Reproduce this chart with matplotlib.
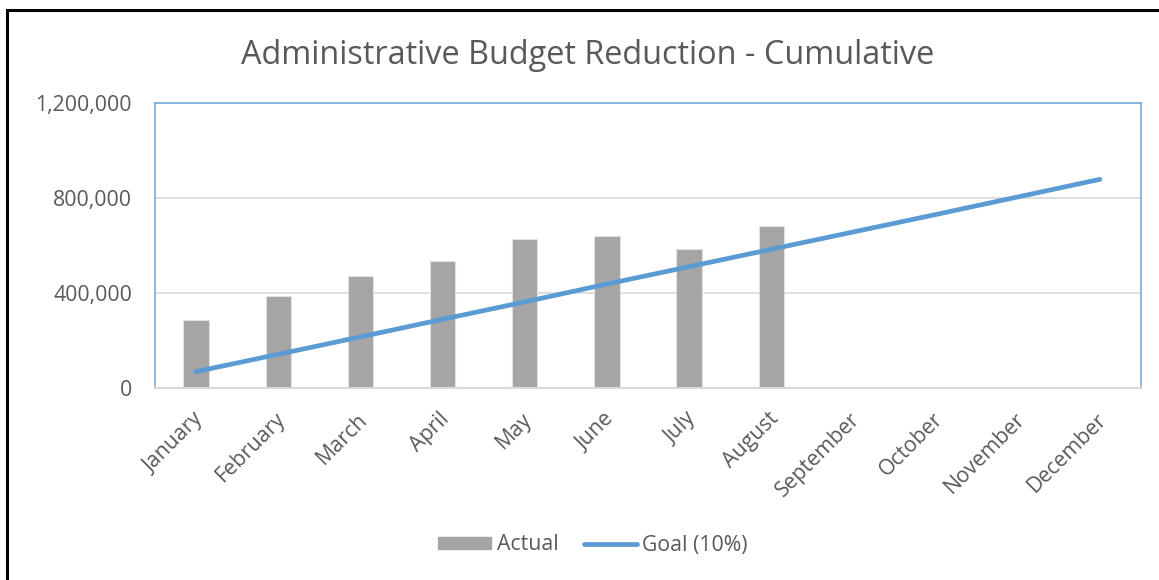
import matplotlib
matplotlib.use("Agg")
import matplotlib.pyplot as plt
import matplotlib.transforms as mtransforms
from matplotlib.lines import Line2D
from matplotlib.ticker import FuncFormatter

months = ["January", "February", "March", "April", "May", "June",
          "July", "August", "September", "October", "November", "December"]
actual = [287000, 388000, 473000, 536000, 627000, 641000, 585000, 681000]
goal = [70000, 143000, 216000, 290000, 363000, 438000,
        511000, 584000, 657000, 730000, 804000, 878000]
yticks = [0, 400000, 800000, 1200000]

BAR_CLR = "#A5A5A5"
LINE_CLR = "#5B9BD5"
TEXT_CLR = "#595959"
GRID_CLR = "#D9D9D9"

plt.rcParams["font.family"] = ["Open Sans", "DejaVu Sans"]

fig = plt.figure(figsize=(11.59, 5.80), dpi=100)
ax = fig.add_axes([155 / 1159, 1 - 388.3 / 580, 986 / 1159, 285.6 / 580])

x = list(range(len(months)))
ax.bar(x[:len(actual)], actual, width=0.31, color=BAR_CLR,
       edgecolor="#E0E0E0", linewidth=0.8, zorder=2)
ax.plot(x, goal, color=LINE_CLR, linewidth=3.4, solid_capstyle="round", zorder=3)

ax.set_xlim(-0.5, len(months) - 0.5)
ax.set_ylim(0, 1200000)
ax.set_yticks(yticks)
ax.yaxis.set_major_formatter(FuncFormatter(lambda v, p: f"{int(v):,}"))
ax.yaxis.grid(True, color=GRID_CLR, linewidth=1.2, zorder=0)
ax.set_xticks(x)
ax.set_xticklabels(months, rotation=45, ha="right", va="center",
                   rotation_mode="anchor")
ax.tick_params(axis="both", length=0, colors=TEXT_CLR, labelsize=15.3)
ax.tick_params(axis="x", pad=20)
ax.tick_params(axis="y", pad=16.5)

# nudge month labels a little to the right, like the original
shift = mtransforms.ScaledTranslation(4 / 100, 0, fig.dpi_scale_trans)
for lbl in ax.get_xticklabels():
    lbl.set_transform(lbl.get_transform() + shift)

for side in ["left", "top", "right"]:
    ax.spines[side].set_color("#6FA8DC")
    ax.spines[side].set_linewidth(1.1)
ax.spines["bottom"].set_color(GRID_CLR)
ax.spines["bottom"].set_linewidth(1.5)

fig.text(588 / 1159, 1 - 55 / 580, "Administrative Budget Reduction - Cumulative",
         ha="center", va="center", fontsize=23.4, color=TEXT_CLR)

handles = [
    plt.Rectangle((0, 0), 1, 1, color=BAR_CLR),
    Line2D([0], [0], color=LINE_CLR, linewidth=3.4, solid_capstyle="round"),
]
fig.legend(handles, ["Actual", "Goal (10%)"], loc="center",
           bbox_to_anchor=(593 / 1159, 1 - 545 / 580), ncol=2, frameon=False,
           fontsize=15.3, labelcolor=TEXT_CLR, handlelength=2.5,
           handleheight=0.5, handletextpad=0.25, columnspacing=1.2)

# outer chart frame (left and top edges visible)
fig.add_artist(Line2D([6.5 / 1159, 6.5 / 1159], [0, 1 - 9.5 / 580],
                      color="black", linewidth=2.2, transform=fig.transFigure))
fig.add_artist(Line2D([6.5 / 1159, 1], [1 - 9.5 / 580, 1 - 9.5 / 580],
                      color="black", linewidth=2.2, transform=fig.transFigure))

fig.savefig("out.png", dpi=100, facecolor="white")
